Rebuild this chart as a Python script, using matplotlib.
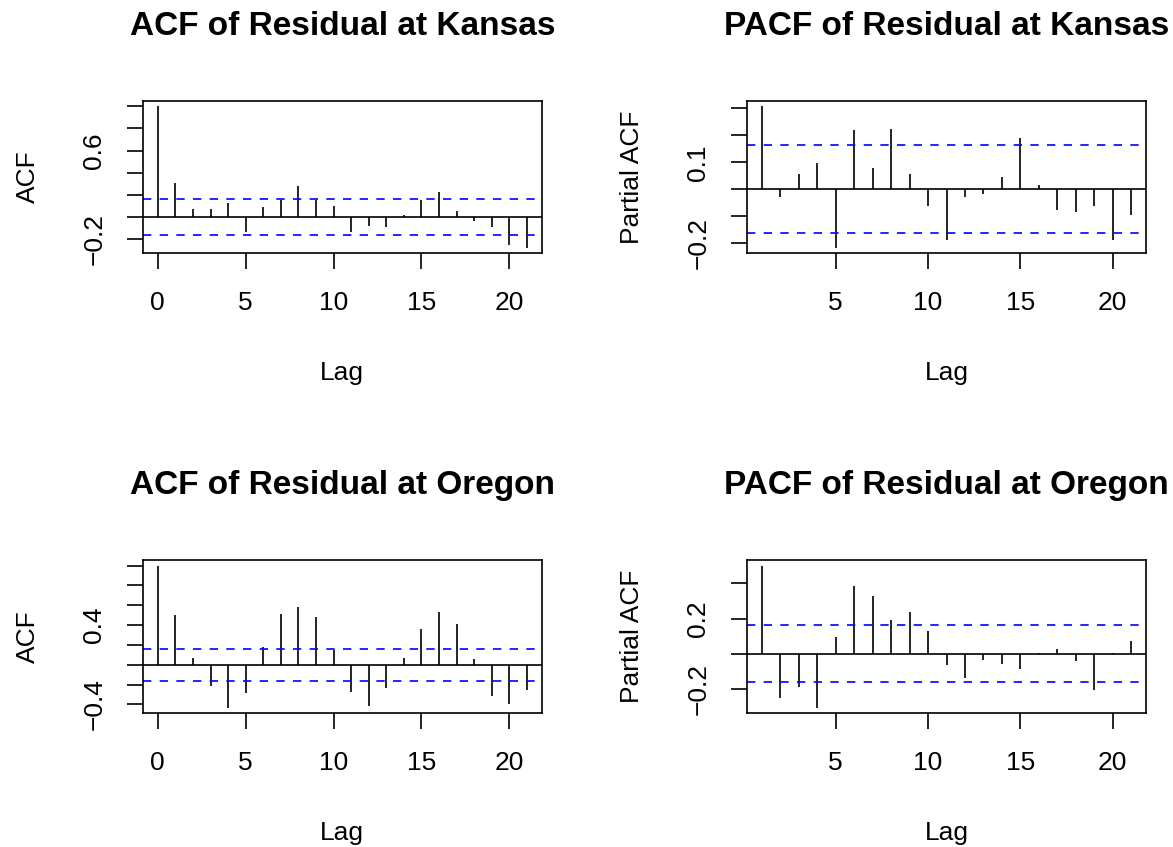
import matplotlib
matplotlib.use("Agg")
import matplotlib.pyplot as plt
import numpy as np

plt.rcParams['font.family'] = ['Liberation Sans', 'DejaVu Sans']

# ---------------- data ----------------
lags_acf = list(range(0, 22))
lags_pacf = list(range(1, 22))

acf_kansas = [1.0, 0.307, 0.075, 0.069, 0.122, -0.134, 0.092, 0.158, 0.277, 0.158, 0.098,
              -0.140, -0.080, -0.086, 0.021, 0.158, 0.230, 0.051, -0.036, -0.092, -0.253, -0.277]
pacf_kansas = [0.307, -0.027, 0.056, 0.099, -0.216, 0.218, 0.080, 0.223, 0.057, -0.063,
               -0.189, -0.027, -0.018, 0.046, 0.191, 0.015, -0.078, -0.084, -0.061, -0.189, -0.096]
acf_oregon = [1.0, 0.500, 0.067, -0.218, -0.433, -0.282, 0.178, 0.513, 0.584, 0.483, 0.148,
              -0.272, -0.413, -0.235, 0.064, 0.359, 0.537, 0.409, 0.057, -0.312, -0.399, -0.258]
pacf_oregon = [0.500, -0.249, -0.187, -0.306, 0.096, 0.383, 0.328, 0.189, 0.238, 0.128,
               -0.062, -0.136, -0.034, -0.057, -0.087, 0.004, 0.028, -0.042, -0.206, 0.004, 0.074]

conf_limit = 0.163

titles = ["ACF of Residual at Kansas", "PACF of Residual at Kansas",
          "ACF of Residual at Oregon", "PACF of Residual at Oregon"]
ylabels = ["ACF", "Partial ACF", "ACF", "Partial ACF"]
xlabel = "Lag"

acf_xticks = [0, 5, 10, 15, 20]
pacf_xticks = [5, 10, 15, 20]

yticks_list = [
    [-0.2, 0.0, 0.2, 0.4, 0.6, 0.8, 1.0],
    [-0.2, -0.1, 0.0, 0.1, 0.2, 0.3],
    [-0.4, -0.2, 0.0, 0.2, 0.4, 0.6, 0.8, 1.0],
    [-0.2, 0.0, 0.2, 0.4],
]
yticklabels_list = [
    ["\u22120.2", "", "", "", "0.6", "", ""],
    ["\u22120.2", "", "", "0.1", "", ""],
    ["\u22120.4", "", "", "", "0.4", "", "", ""],
    ["\u22120.2", "", "0.2", ""],
]

# ---------------- layout ----------------
W, H = 1173, 847
fig = plt.figure(figsize=(W / 100, H / 100), dpi=100)

def ax_at(l, t, r, b):
    return fig.add_axes([l / W, 1 - b / H, (r - l) / W, (b - t) / H])

boxes = [(143, 100.7, 541.7, 253.3), (747, 100.7, 1146, 253.3),
         (143, 560, 541.7, 713.3), (747, 560, 1146, 713.3)]

series = [(lags_acf, acf_kansas, acf_xticks), (lags_pacf, pacf_kansas, pacf_xticks),
          (lags_acf, acf_oregon, acf_xticks), (lags_pacf, pacf_oregon, pacf_xticks)]

base_fs = 19
title_fs = 24
lw = 1.2

for i, (box, (lags, vals, xt)) in enumerate(zip(boxes, series)):
    ax = ax_at(*box)
    l, t, r, b = box
    wpx, hpx = r - l, b - t
    # R-like 4% range expansion
    x0, x1 = min(lags), max(lags)
    dx = 0.04 * (x1 - x0)
    lo = min(min(vals), -conf_limit)
    hi = max(max(vals), conf_limit)
    dy = 0.04 * (hi - lo)
    ax.set_xlim(x0 - dx, x1 + dx)
    ax.set_ylim(lo - dy, hi + dy)

    ax.vlines(lags, 0, vals, colors='black', linewidth=lw)
    ax.axhline(0, color='black', linewidth=lw)
    for c in (conf_limit, -conf_limit):
        ax.axhline(c, color='#0000FF', linewidth=lw, linestyle=(0, (5, 5)))

    for s in ax.spines.values():
        s.set_linewidth(lw)
        s.set_color('black')

    ax.set_xticks(xt)
    ax.set_xticklabels([str(v) for v in xt])
    ax.set_yticks(yticks_list[i])
    ax.set_yticklabels(yticklabels_list[i])
    ax.tick_params(axis='both', direction='out', length=11.5, width=lw,
                   labelsize=base_fs, color='black')
    ax.tick_params(axis='x', pad=16)
    ax.tick_params(axis='y', pad=15, labelrotation=90)
    for lab in ax.get_yticklabels():
        lab.set_va('center')

    ax.set_title(titles[i], fontsize=title_fs, fontweight='bold', pad=47.5)

    ax.set_xlabel(xlabel, fontsize=base_fs)
    ax.xaxis.set_label_coords(0.5, -119.5 / hpx)
    ax.xaxis.label.set_va('center')
    ax.set_ylabel(ylabels[i], fontsize=base_fs)
    ax.yaxis.set_label_coords(-115.0 / wpx, 0.5)
    ax.yaxis.label.set_va('center')
    ax.yaxis.label.set_ha('center')

fig.savefig("out.png", dpi=100)
